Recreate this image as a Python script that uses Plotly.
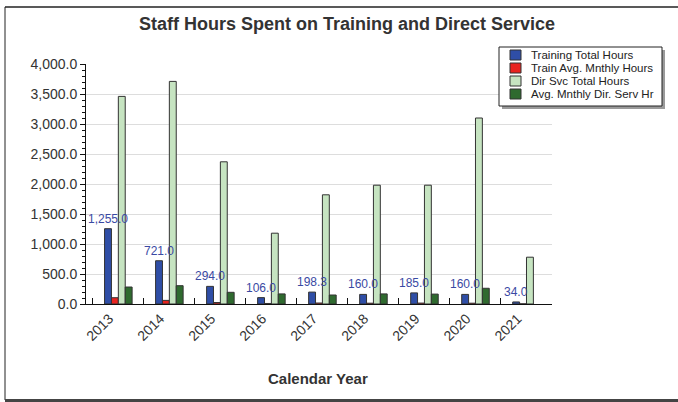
import plotly.graph_objects as go

years = ["2013", "2014", "2015", "2016", "2017", "2018", "2019", "2020", "2021"]
training_total = [1255.0, 721.0, 294.0, 106.0, 198.3, 160.0, 185.0, 160.0, 34.0]
train_avg_monthly = [104.6, 60.1, 24.5, 8.8, 16.5, 13.3, 15.4, 13.3, 2.8]
dir_svc_total = [3460.0, 3710.0, 2370.0, 1180.0, 1820.0, 1980.0, 1980.0, 3100.0, 780.0]
avg_monthly_dir = [283.0, 305.0, 195.0, 168.0, 150.0, 168.0, 165.0, 262.0, None]

series_names = ["Training Total Hours", "Train Avg. Mnthly Hours",
                "Dir Svc Total Hours", "Avg. Mnthly Dir. Serv Hr"]
series_colors = ["#2f4ea6", "#e8231f", "#c6e4c1", "#2f6a2f"]
series_values = [training_total, train_avg_monthly, dir_svc_total, avg_monthly_dir]

W, H = 678, 402
L, R, T, B = 86, 552, 64, 304  # plot area in pixels
BARGAP = 0.46


def px(x):
    return (x - L) / (R - L)


def py(y):
    return (B - y) / (B - T)


FONT = "Liberation Sans, Arial, Helvetica, sans-serif"

fig = go.Figure()
for name, col, vals in zip(series_names, series_colors, series_values):
    fig.add_trace(go.Bar(x=years, y=vals, name=name, marker_color=col,
                         marker_line=dict(color="#333333", width=1),
                         showlegend=False, hoverinfo="skip"))

shapes = []
annotations = []

# value labels above the training-total bars (first bar of each group)
n_series = len(series_values)
group_w = 1 - BARGAP
bar_w = group_w / n_series
first_offset = -group_w / 2 + bar_w / 2
for i, v in enumerate(training_total):
    annotations.append(dict(text=f"{v:,.1f}", xref="x", yref="y", x=i + first_offset, y=v,
                            xanchor="center", yanchor="bottom", yshift=1, showarrow=False,
                            font=dict(size=12, color="#3a49a3", family=FONT)))

# outer frame
shapes.append(dict(type="line", xref="paper", yref="paper", x0=px(5), x1=px(5), y0=py(7), y1=py(400),
                   line=dict(color="#222", width=1)))
shapes.append(dict(type="line", xref="paper", yref="paper", x0=px(5), x1=px(680), y0=py(7), y1=py(7),
                   line=dict(color="#222", width=1.5)))
shapes.append(dict(type="line", xref="paper", yref="paper", x0=px(5), x1=px(680), y0=py(400.5), y1=py(400.5),
                   line=dict(color="#444", width=3)))

# legend box with shadow
shapes.append(dict(type="rect", xref="paper", yref="paper", x0=px(502), x1=px(665), y0=py(50), y1=py(109),
                   fillcolor="#9a9a9a", line=dict(width=0), layer="above"))
shapes.append(dict(type="rect", xref="paper", yref="paper", x0=px(499), x1=px(662), y0=py(47), y1=py(106),
                   fillcolor="white", line=dict(color="#222", width=1), layer="above"))
row_y = [55, 68, 81, 94]
for name, col, yy in zip(series_names, series_colors, row_y):
    shapes.append(dict(type="rect", xref="paper", yref="paper", x0=px(510), x1=px(521),
                       y0=py(yy - 5), y1=py(yy + 5), fillcolor=col,
                       line=dict(color="#333", width=1), layer="above"))
    annotations.append(dict(text=name, xref="paper", yref="paper", x=px(529), y=py(yy),
                            xanchor="left", yanchor="middle", showarrow=False,
                            font=dict(size=11.5, color="#222", family=FONT)))

annotations.append(dict(text="<b>Staff Hours Spent on Training and Direct Service</b>",
                        xref="paper", yref="paper", x=px(347), y=py(24), xanchor="center",
                        yanchor="middle", showarrow=False,
                        font=dict(size=18, color="#333", family=FONT)))
annotations.append(dict(text="<b>Calendar Year</b>", xref="paper", yref="paper", x=px(318), y=py(378),
                        xanchor="center", yanchor="middle", showarrow=False,
                        font=dict(size=15, color="#333", family=FONT)))

fig.update_layout(
    width=W, height=H,
    margin=dict(l=L, r=W - R, t=T, b=H - B, pad=0),
    paper_bgcolor="white", plot_bgcolor="white",
    barmode="group", bargap=BARGAP, bargroupgap=0,
    font=dict(family=FONT, color="#333"),
    shapes=shapes, annotations=annotations,
    xaxis=dict(type="category", showline=True, linecolor="#111", linewidth=1,
               ticks="inside", ticklen=6, tickcolor="#111", tickson="boundaries",
               tickangle=-45, tickfont=dict(size=14, color="#333"), showgrid=False,
               ticklabelshift=-9, automargin=False),
    yaxis=dict(range=[0, 4000], dtick=500, tickformat=",.1f", showline=True,
               linecolor="#111", linewidth=1, ticks="outside", ticklen=5, tickcolor="#111",
               tickfont=dict(size=14, color="#333"), showgrid=True, gridcolor="#dddddd",
               gridwidth=1, zeroline=False, automargin=False,
               minor=dict(dtick=100, ticks="outside", ticklen=3, tickcolor="#111", showgrid=False)),
)

fig.write_html("out.html", config={"displayModeBar": False},
               post_script="document.body.style.margin='0px';document.body.style.overflow='hidden';")
